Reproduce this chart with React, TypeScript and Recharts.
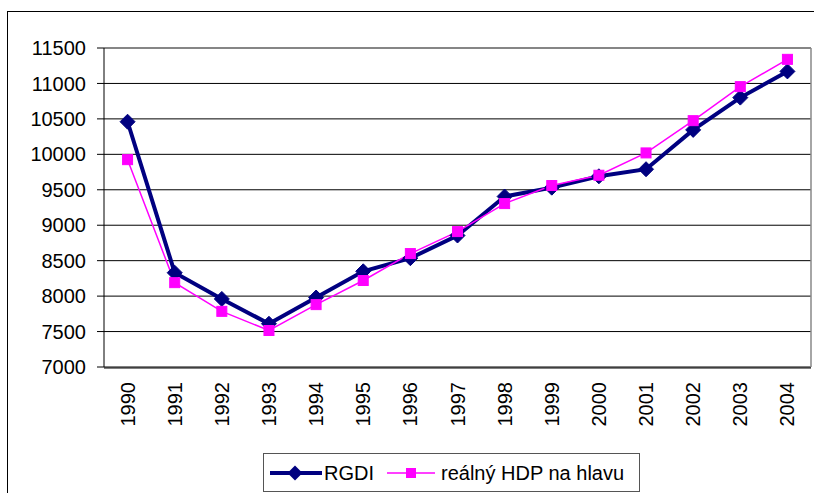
import React from 'react';
import { LineChart, Line, XAxis, YAxis, CartesianGrid, ReferenceLine, Legend } from 'recharts';

const years = ['1990','1991','1992','1993','1994','1995','1996','1997','1998','1999','2000','2001','2002','2003','2004'];
const rgdi = [10460, 8330, 7960, 7610, 7980, 8350, 8535, 8855, 9405, 9530, 9690, 9790, 10345, 10800, 11170];
const hdp = [9925, 8190, 7785, 7515, 7880, 8220, 8600, 8910, 9305, 9560, 9705, 10020, 10475, 10955, 11340];
const yTicks = [7000, 7500, 8000, 8500, 9000, 9500, 10000, 10500, 11000, 11500];
const boundaryTicks = [0,1,2,3,4,5,6,7,8,9,10,11,12,13,14,15];
const centerTicks = years.map((_, i) => i + 0.5);

const data = years.map((y, i) => ({ x: i + 0.5, year: y, rgdi: rgdi[i], hdp: hdp[i] }));

const NAVY = '#000080';
const MAGENTA = '#FF00FF';
const FONT = 'Arial, "Liberation Sans", sans-serif';

const Diamond = (props: any) => {
  const { cx, cy } = props;
  if (cx == null || cy == null) return null;
  const r = 7.5;
  return <polygon points={`${cx},${cy - r} ${cx + r},${cy} ${cx},${cy + r} ${cx - r},${cy}`} fill={NAVY} stroke={NAVY} strokeWidth={1} />;
};

const Square = (props: any) => {
  const { cx, cy } = props;
  if (cx == null || cy == null) return null;
  const s = 5;
  return <rect x={cx - s} y={cy - s} width={2 * s} height={2 * s} fill={MAGENTA} stroke={MAGENTA} />;
};

const YearTick = (props: any) => {
  const { x, payload } = props;
  const idx = Math.floor(payload.value);
  return (
    <text transform={`translate(${x},382) rotate(-90)`} textAnchor="end" dominantBaseline="central" fontSize={20} fontFamily={FONT} fill="#000">
      {years[idx]}
    </text>
  );
};

const LegendContent = () => (
  <div style={{ width: 377, height: 39, boxSizing: 'border-box', border: '1px solid #555', background: '#fff', fontFamily: FONT, fontSize: 20, color: '#000', position: 'relative' }}>
    <svg width={377} height={39} style={{ position: 'absolute', left: -1, top: -1 }}>
      <line x1={7} x2={59} y1={20} y2={20} stroke={NAVY} strokeWidth={4} />
      <polygon points="32,12.5 39.5,20 32,27.5 24.5,20" fill={NAVY} />
      <text x={61} y={20} dominantBaseline="central" fontSize={20} fontFamily={FONT}>RGDI</text>
      <line x1={124} x2={172} y1={20} y2={20} stroke={MAGENTA} strokeWidth={1.5} />
      <rect x={143} y={15} width={10} height={10} fill={MAGENTA} />
      <text x={178} y={20} dominantBaseline="central" fontSize={20} fontFamily={FONT}>reálný HDP na hlavu</text>
    </svg>
  </div>
);

export default function App() {
  return (
    <div style={{ position: 'fixed', left: 0, top: 0, width: 814, height: 493, overflow: 'hidden', background: '#fff' }}>
      <div style={{ position: 'absolute', left: 7, top: 11, width: 900, height: 600, border: '1px solid #000' }} />
      <div style={{ position: 'absolute', left: 0, top: 0 }}>
        <LineChart width={814} height={493} data={data} margin={{ top: 48, right: 3, left: 0, bottom: 124 }}>
          <CartesianGrid vertical={false} stroke="#000" strokeWidth={1} />
          <XAxis xAxisId="ticks" type="number" dataKey="x" domain={[0, 15]} ticks={boundaryTicks} tick={false} tickSize={6} height={1} axisLine={{ stroke: '#000' }} tickLine={{ stroke: '#000' }} allowDataOverflow />
          <XAxis xAxisId="lab" type="number" dataKey="x" domain={[0, 15]} ticks={centerTicks} tick={<YearTick />} tickLine={false} axisLine={false} tickSize={0} tickMargin={0} height={1} interval={0} allowDataOverflow />
          <YAxis type="number" domain={[7000, 11500]} ticks={yTicks} width={104} tickSize={7} tickMargin={11} interval={0} axisLine={{ stroke: '#000' }} tickLine={{ stroke: '#000' }} tick={{ fontSize: 20, fontFamily: FONT, fill: '#000' }} allowDataOverflow />
          <ReferenceLine xAxisId="lab" y={11500} stroke="#888" strokeWidth={1.5} />
          <ReferenceLine xAxisId="lab" x={15} stroke="#888" strokeWidth={1.5} />
          <Line xAxisId="lab" type="linear" dataKey="rgdi" name="RGDI" stroke={NAVY} strokeWidth={4} dot={<Diamond />} activeDot={false} isAnimationActive={false} />
          <Line xAxisId="lab" type="linear" dataKey="hdp" name="reálný HDP na hlavu" stroke={MAGENTA} strokeWidth={1.5} dot={<Square />} activeDot={false} isAnimationActive={false} />
          <Legend layout="horizontal" verticalAlign="middle" align="center" content={<LegendContent />} wrapperStyle={{ position: 'absolute', left: 263, top: 453, width: 377, height: 39 }} />
        </LineChart>
      </div>
    </div>
  );
}
